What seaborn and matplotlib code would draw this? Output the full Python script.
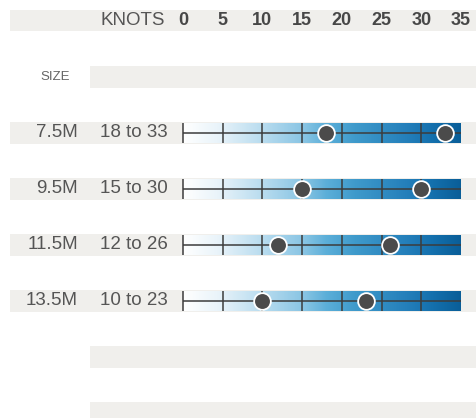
import numpy as np
import pandas as pd
import seaborn as sns
import matplotlib.pyplot as plt
from matplotlib.colors import LinearSegmentedColormap

# chart data
sizes = ["7.5M", "9.5M", "11.5M", "13.5M"]
wind_low = [18, 15, 12, 10]
wind_high = [33, 30, 26, 23]
knot_ticks = [0, 5, 10, 15, 20, 25, 30, 35]
empty_rows = 2

sns.set_theme(style="white")
plt.rcParams['font.family'] = ['Liberation Sans', 'DejaVu Sans']

band_color = "#f0efec"
text_color = "#555555"
line_color = "#3c3c3c"
dot_color = "#4b4b4b"

fig = plt.figure(figsize=(4.76, 4.18), dpi=100)
ax = fig.add_axes([0, 0, 1, 1])
ax.set_axis_off()

# pixel-ish layout mapped onto knots (x) and row index (y)
px_per_knot = (461 - 183) / 35.0
def px(x):
    return (x - 183) / px_per_knot

row_step = 56.07
band_h = 0.196
bar_h = 0.178

grad = LinearSegmentedColormap.from_list("wind", [
    (0.0, "#ffffff"), (0.12, "#eaf4fa"), (0.3, "#b4daee"), (0.44, "#86c3e3"),
    (0.52, "#5aaed8"), (0.62, "#3f9acb"), (0.8, "#2580bb"), (0.9, "#1470ad"),
    (1.0, "#0a5e98")])

# header row
ax.axhspan(-band_h, band_h, xmin=10 / 476, xmax=1, color=band_color, lw=0, zorder=0)
ax.text(px(100), 0, "KNOTS", ha="left", va="center", fontsize=13.5, color=text_color)
for k in knot_ticks:
    ax.text(k, 0, str(k), ha="center", va="center", fontsize=13, fontweight="bold",
            color="#474747")

# size row
ax.axhspan(1 - band_h, 1 + band_h, xmin=90 / 476, xmax=1, color=band_color, lw=0, zorder=0)
ax.text(px(55), 1, "SIZE", ha="center", va="center", fontsize=9.5, color="#666666")

rows = []
for i, (s, lo, hi) in enumerate(zip(sizes, wind_low, wind_high)):
    y = i + 2
    ax.axhspan(y - band_h, y + band_h, xmin=10 / 476, xmax=1, color=band_color, lw=0, zorder=0)
    ax.imshow(np.linspace(0, 1, 256).reshape(1, -1), cmap=grad, aspect="auto",
              extent=[knot_ticks[0], knot_ticks[-1], y + bar_h, y - bar_h], zorder=1)
    ax.hlines(y, knot_ticks[0], knot_ticks[-1], color=line_color, lw=1.1, zorder=2)
    ax.vlines(knot_ticks[:-1], y - bar_h, y + bar_h, color=line_color, lw=1.1, zorder=2)
    ax.text(px(78), y, s, ha="right", va="center", fontsize=13.5, color=text_color)
    ax.text(px(100), y, f"{lo} to {hi}", ha="left", va="center", fontsize=13.5, color=text_color)
    rows.append({"knots": lo, "row": y})
    rows.append({"knots": hi, "row": y})

dots = pd.DataFrame(rows)
sns.scatterplot(data=dots, x="knots", y="row", s=145, color=dot_color,
                edgecolor="white", linewidth=1.3, zorder=3, ax=ax, legend=False)

# empty rows at the bottom
for j in range(empty_rows):
    y = len(sizes) + 2 + j
    ax.axhspan(y - band_h, y + band_h, xmin=90 / 476, xmax=1, color=band_color, lw=0, zorder=0)

ax.set_xlim(px(0), px(476))
ax.set_ylim((418 - 20.5) / row_step, -20.5 / row_step)
ax.set_axis_off()

plt.savefig("out.png", dpi=100)
